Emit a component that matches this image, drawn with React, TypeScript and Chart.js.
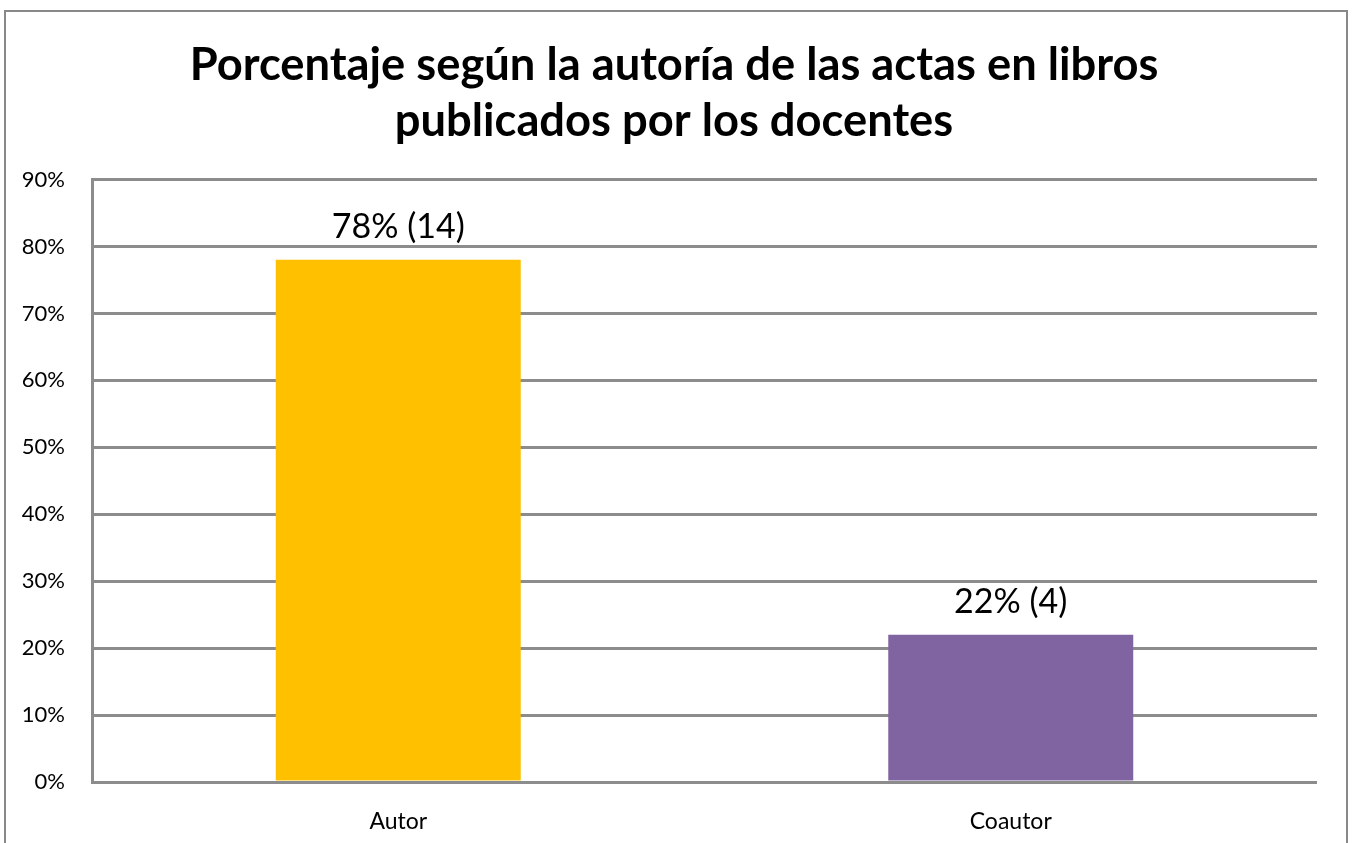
import React, { useEffect, useRef } from "react";
import { Chart, registerables } from "chart.js";

Chart.register(...registerables);

const categories = ["Autor", "Coautor"];
const percentValues = [78, 22];
const countValues = [14, 4];
const barColors = ["#FFC000", "#8064A2"];
const yTickMax = 90;
const yTickStep = 10;
const titleLines = [
  "Porcentaje según la autoría de las actas en libros",
  "publicados por los docentes",
];

const FONT = "Lato, 'Open Sans', sans-serif";
const GRID = "#8c8c8c";

export default function App() {
  const ref = useRef<HTMLCanvasElement | null>(null);

  useEffect(() => {
    if (!ref.current) return;
    const framePlugin = {
      id: "frame",
      beforeDraw(chart: any) {
        const ctx = chart.ctx;
        ctx.save();
        ctx.fillStyle = "#ffffff";
        ctx.fillRect(0, 0, chart.width, chart.height);
        ctx.strokeStyle = "#888888";
        ctx.lineWidth = 2;
        ctx.beginPath();
        ctx.moveTo(5, chart.height + 5);
        ctx.lineTo(5, 11);
        ctx.lineTo(1347, 11);
        ctx.lineTo(1347, chart.height + 5);
        ctx.stroke();
        ctx.restore();
      },
    };
    const labelPlugin = {
      id: "barLabels",
      afterDatasetsDraw(chart: any) {
        const ctx = chart.ctx;
        const meta = chart.getDatasetMeta(0);
        ctx.save();
        ctx.font = `34px ${FONT}`;
        ctx.fillStyle = "#000000";
        ctx.textAlign = "center";
        ctx.textBaseline = "alphabetic";
        meta.data.forEach((bar: any, i: number) => {
          ctx.fillText(`${percentValues[i]}% (${countValues[i]})`, bar.x, bar.y - 22);
        });
        ctx.restore();
      },
    };
    const chart = new Chart(ref.current, {
      type: "bar",
      data: {
        labels: categories,
        datasets: [
          {
            data: percentValues,
            backgroundColor: barColors,
            borderWidth: 0,
            barPercentage: 0.4,
            categoryPercentage: 1,
            yAxisID: "y",
          },
        ],
      },
      options: {
        responsive: false,
        animation: false,
        layout: { padding: { left: 0, right: 6, top: 0, bottom: 0 } },
        plugins: {
          legend: { display: false },
          tooltip: { enabled: false },
          title: {
            display: true,
            text: titleLines,
            color: "#000000",
            font: { family: FONT, size: 45.3, weight: "bold", lineHeight: 1.22 },
            padding: { top: 38, bottom: 31 },
          },
        },
        scales: {
          x: {
            grid: { display: false, drawTicks: false },
            border: { display: false },
            ticks: {
              color: "#000000",
              font: { family: FONT, size: 23 },
              padding: 26,
            },
            afterFit(scale: any) {
              scale.height = 61;
            },
          },
          y: {
            position: "left",
            min: 0,
            max: yTickMax,
            grid: { color: GRID, lineWidth: 3, drawTicks: false },
            border: { display: true, color: GRID, width: 3 },
            ticks: {
              stepSize: yTickStep,
              color: "#000000",
              font: { family: FONT, size: 22 },
              padding: 27,
              callback: (v: any) => `${v}%`,
            },
            afterFit(scale: any) {
              scale.width = 92;
            },
          },
          yRight: {
            position: "right",
            min: 0,
            max: yTickMax,
            grid: { display: false, drawTicks: false },
            border: { display: false },
            ticks: { display: false },
            afterFit(scale: any) {
              scale.width = 31;
            },
          },
        },
      },
      plugins: [framePlugin, labelPlugin],
    });
    return () => chart.destroy();
  }, []);

  return (
    <canvas
      ref={ref}
      width={1354}
      height={843}
      style={{ position: "absolute", left: 0, top: 0, display: "block" }}
    />
  );
}
